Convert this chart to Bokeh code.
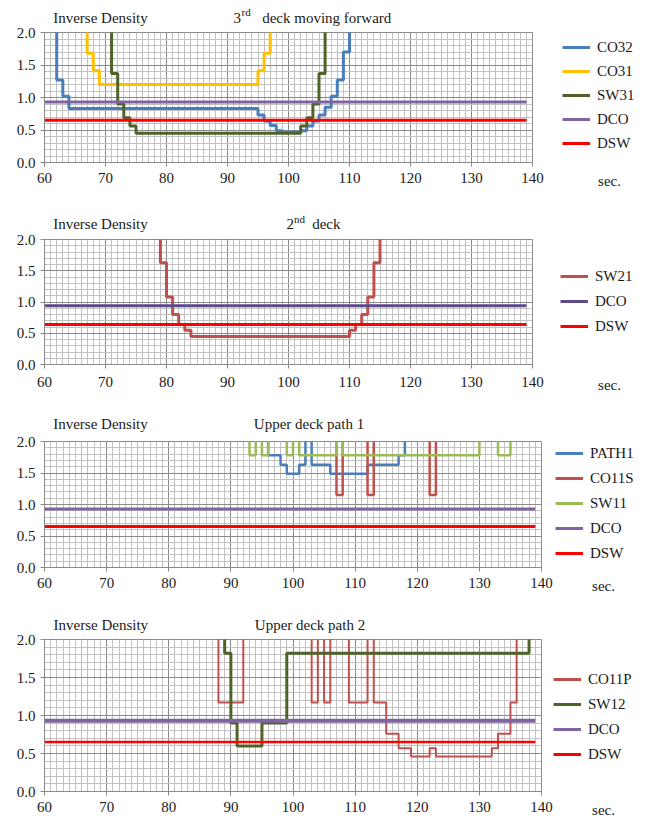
from bokeh.plotting import figure
from bokeh.models import (Range1d, SingleIntervalTicker, FixedTicker, PrintfTickFormatter,
                          Label, Legend, LegendItem)
from bokeh.layouts import column, row
from bokeh.embed import file_html
from bokeh.resources import INLINE

OFF = 2.5  # reading above the 2.0 axis limit (off scale)
FONT = "Liberation Serif"
TXT = "#1a1a1a"

# ---------------- Panel 1: 3rd deck moving forward ----------------
co32_t = [61, 62, 63, 64, 95, 96, 97, 98, 99, 102, 103, 104, 105, 106, 107, 108, 109, 110]
co32_v = [OFF, 1.27, 1.02, 0.83, 0.73, 0.64, 0.57, 0.49, 0.47, 0.49, 0.56, 0.64, 0.73, 0.85, 1.02, 1.27, 1.70, OFF]
co31_t = [66, 67, 68, 69, 95, 96, 97]
co31_v = [OFF, 1.68, 1.41, 1.20, 1.41, 1.68, OFF]
sw31_t = [70, 71, 72, 73, 74, 75, 102, 103, 104, 105, 106]
sw31_v = [OFF, 1.37, 0.90, 0.69, 0.56, 0.45, 0.56, 0.69, 0.90, 1.37, OFF]
dco1 = 0.93
dsw1 = 0.65

# ---------------- Panel 2: 2nd deck ----------------
sw21_t = [78, 79, 80, 81, 82, 83, 84, 110, 111, 112, 113, 114, 115]
sw21_v = [OFF, 1.63, 1.08, 0.80, 0.64, 0.55, 0.45, 0.55, 0.64, 0.80, 1.08, 1.63, OFF]
dco2 = 0.94
dsw2 = 0.64

# ---------------- Panel 3: Upper deck path 1 ----------------
path1_t = [95, 96, 98, 99, 101, 102, 103, 106, 112, 117, 118]
path1_v = [OFF, 1.78, 1.63, 1.49, 1.63, OFF, 1.63, 1.49, 1.63, 1.78, OFF]
co11s_t = [106, 107, 108, 112, 113, 122, 123]
co11s_v = [OFF, 1.15, OFF, 1.15, OFF, 1.15, OFF]
sw11_t = [92, 93, 94, 95, 96, 99, 100, 101, 107, 108, 130, 133, 135]
sw11_v = [OFF, 1.78, OFF, 1.78, OFF, 1.78, OFF, 1.78, OFF, 1.78, OFF, 1.78, OFF]
dco3 = 0.93
dsw3 = 0.65

# ---------------- Panel 4: Upper deck path 2 ----------------
co11p_t = [87, 88, 92, 103, 104, 105, 106, 109, 112, 113, 115, 117, 119, 122, 123, 132, 133, 135, 136]
co11p_v = [OFF, 1.17, OFF, 1.17, OFF, 1.17, OFF, 1.17, OFF, 1.17, 0.76, 0.57, 0.46, 0.57, 0.46, 0.57, 0.76, 1.17, OFF]
sw12_t = [88, 89, 90, 91, 95, 99, 138]
sw12_v = [OFF, 1.82, 0.90, 0.60, 0.90, 1.82, OFF]
dco4 = 0.93
dsw4 = 0.65

ref_t = [60, 139]          # extent of the DCO / DSW reference lines
x_ticks_interval = 10
y_ticks_interval = 0.5
unit_label = "sec."

PAGE_W = 653
LEFT = 44


def style_axis(ax, standoff):
    ax.major_tick_out = 4
    ax.major_tick_in = 0
    ax.minor_tick_out = 0
    ax.minor_tick_in = 0
    ax.major_label_text_font = FONT
    ax.major_label_text_font_size = "15px"
    ax.major_label_text_color = TXT
    ax.major_label_standoff = standoff


def make_fig(width, height, top, bottom, fw, standoff):
    p = figure(width=width, height=height, title=None,
               x_range=Range1d(60, 140), y_range=Range1d(0, 2),
               output_backend="svg", toolbar_location=None,
               min_border_left=LEFT, min_border_right=width - LEFT - fw,
               min_border_top=top, min_border_bottom=bottom)
    xt = SingleIntervalTicker(interval=x_ticks_interval, num_minor_ticks=10)
    yt = SingleIntervalTicker(interval=y_ticks_interval, num_minor_ticks=5)
    p.xaxis.ticker = xt
    p.yaxis.ticker = yt
    p.xgrid.ticker = xt
    p.ygrid.ticker = yt
    p.yaxis.formatter = PrintfTickFormatter(format="%.1f")
    for g in (p.xgrid, p.ygrid):
        g.grid_line_color = "#8A8A8A"
        g.grid_line_width = 1
        g.minor_grid_line_color = "#C2C2C2"
        g.minor_grid_line_width = 1
    for ax in (p.xaxis, p.yaxis):
        ax.axis_line_color = "#8A8A8A"
        ax.major_tick_line_color = "#8A8A8A"
        style_axis(ax, 5)
    p.xaxis.major_label_standoff = standoff
    p.outline_line_color = "#8A8A8A"
    p.background_fill_color = "white"
    p.border_fill_color = "white"
    return p


def header(width, height):
    """Plain pixel-space strip above a chart, holding its titles."""
    p = figure(width=width, height=height, title=None,
               x_range=Range1d(0, width), y_range=Range1d(height, 0),
               x_axis_type=None, y_axis_type=None,
               output_backend="svg", toolbar_location=None, min_border=0)
    p.outline_line_color = None
    p.background_fill_color = "white"
    p.border_fill_color = "white"
    p.grid.visible = False
    return p


def side(width, height, top, bottom, unit_x, standoff):
    """Strip right of a chart: legend, plus the unit of the time axis."""
    p = figure(width=width, height=height, title=None,
               x_range=Range1d(0, width), y_range=Range1d(0, 1),
               y_axis_location=None, output_backend="svg", toolbar_location=None,
               min_border_left=0, min_border_right=0,
               min_border_top=top, min_border_bottom=bottom)
    p.xaxis.ticker = FixedTicker(ticks=[unit_x])
    p.xaxis.major_label_overrides = {unit_x: unit_label}
    p.xaxis.axis_line_color = None
    p.xaxis.major_tick_line_color = None
    p.xaxis.minor_tick_line_color = None
    style_axis(p.xaxis, standoff)
    p.grid.visible = False
    p.outline_line_color = None
    p.background_fill_color = "white"
    p.border_fill_color = "white"
    return p


def txt(p, x, y, text, size="15px"):
    p.add_layout(Label(x=x, y=y, text=text, text_font=FONT, text_font_size=size,
                       text_color=TXT, text_baseline="alphabetic", text_align="left"))


def side_legend(s, entries, loc, spacing):
    items = []
    for name, color, lw in entries:
        # legend swatch only: lies outside the strip's visible range
        proxy = s.line(x=[-20, -10], y=[0.5, 0.5], line_color=color, line_width=lw)
        items.append(LegendItem(label=name, renderers=[proxy]))
    lg = Legend(items=items, location=loc, orientation="vertical", glyph_width=28,
                glyph_height=20, label_height=20, spacing=spacing, padding=0,
                margin=0, label_standoff=7, border_line_color=None,
                background_fill_alpha=0, label_text_font=FONT,
                label_text_font_size="15px", label_text_color=TXT)
    s.add_layout(lg)


C_BLUE = "#4A7EBB"
C_GOLD = "#FFC000"
C_OLIVE = "#4F6228"
C_PURPLE = "#8064A2"
C_RED = "#FF0000"
C_BRICK = "#C0504D"
C_LGREEN = "#9BBB59"
C_DPURPLE = "#5C4A8C"

DY = -5  # label baseline correction

# ---------- Panel 1 ----------
h1 = header(PAGE_W, 26)
txt(h1, 52.7, 22 + DY, "Inverse Density")
txt(h1, 233, 22 + DY, "3")
txt(h1, 241, 16 + DY, "rd", "11px")
txt(h1, 261.7, 22 + DY, "deck moving forward")

W12 = 546
m1 = make_fig(W12, 172, 6, 36, 488, 6)
m1.step(co32_t, co32_v, mode="after", line_color=C_BLUE, line_width=3)
m1.step(co31_t, co31_v, mode="after", line_color=C_GOLD, line_width=3)
m1.step(sw31_t, sw31_v, mode="after", line_color=C_OLIVE, line_width=3)
m1.line(ref_t, [dco1, dco1], line_color=C_PURPLE, line_width=3)
m1.line(ref_t, [dsw1, dsw1], line_color=C_RED, line_width=3)
s1 = side(PAGE_W - W12, 172, 6, 36, 63, 6)
side_legend(s1, [("CO32", C_BLUE, 3), ("CO31", C_GOLD, 3), ("SW31", C_OLIVE, 3),
                 ("DCO", C_PURPLE, 3), ("DSW", C_RED, 3)], (16, 9), 4)

# ---------- Panel 2 ----------
h2 = header(PAGE_W, 35)
txt(h2, 52.7, 30.3 + DY, "Inverse Density")
txt(h2, 286, 30 + DY, "2")
txt(h2, 293.5, 25.5 + DY, "nd", "11px")
txt(h2, 311.7, 30.3 + DY, "deck")

m2 = make_fig(W12, 167, 6, 36, 488, 8)
m2.step(sw21_t, sw21_v, mode="after", line_color=C_BRICK, line_width=3)
m2.line(ref_t, [dco2, dco2], line_color=C_DPURPLE, line_width=3)
m2.line(ref_t, [dsw2, dsw2], line_color=C_RED, line_width=3)
s2 = side(PAGE_W - W12, 167, 6, 36, 63, 8)
side_legend(s2, [("SW21", C_BRICK, 3), ("DCO", C_DPURPLE, 3), ("DSW", C_RED, 3)], (14, 28), 5)

# ---------- Panel 3 ----------
h3 = header(PAGE_W, 35)
txt(h3, 52.7, 28.3 + DY, "Inverse Density")
txt(h3, 253.3, 28.3 + DY, "Upper deck path 1")

W34 = 553
m3 = make_fig(W34, 165, 6, 33, 497, 6)
m3.step(path1_t, path1_v, mode="after", line_color=C_BLUE, line_width=2.5)
m3.step(co11s_t, co11s_v, mode="after", line_color=C_BRICK, line_width=2.5)
m3.step(sw11_t, sw11_v, mode="after", line_color=C_LGREEN, line_width=2.5)
m3.line(ref_t, [dco3, dco3], line_color=C_PURPLE, line_width=3)
m3.line(ref_t, [dsw3, dsw3], line_color=C_RED, line_width=3)
s3 = side(PAGE_W - W34, 165, 6, 33, 50, 6)
side_legend(s3, [("PATH1", C_BLUE, 3), ("CO11S", C_BRICK, 3), ("SW11", C_LGREEN, 3),
                 ("DCO", C_PURPLE, 3), ("DSW", C_RED, 3)], (2, 4), 5)

# ---------- Panel 4 ----------
h4 = header(PAGE_W, 33)
txt(h4, 53, 29 + DY, "Inverse Density")
txt(h4, 254.3, 29 + DY, "Upper deck path 2")

m4 = make_fig(W34, 187, 6, 27, 497, 6)
m4.step(co11p_t, co11p_v, mode="after", line_color=C_BRICK, line_width=2)
m4.step(sw12_t, sw12_v, mode="after", line_color=C_OLIVE, line_width=3)
m4.line(ref_t, [dco4, dco4], line_color=C_PURPLE, line_width=4)
m4.line(ref_t, [dsw4, dsw4], line_color=C_RED, line_width=2.5)
s4 = side(PAGE_W - W34, 187, 6, 27, 50, 6)
side_legend(s4, [("CO11P", C_BRICK, 3), ("SW12", C_OLIVE, 3), ("DCO", C_PURPLE, 3),
                 ("DSW", C_RED, 3)], (0, 27), 5)

layout = column(h1, row(m1, s1, spacing=0),
                h2, row(m2, s2, spacing=0),
                h3, row(m3, s3, spacing=0),
                h4, row(m4, s4, spacing=0), spacing=0)
open("out.html", "w").write(file_html(layout, INLINE))
